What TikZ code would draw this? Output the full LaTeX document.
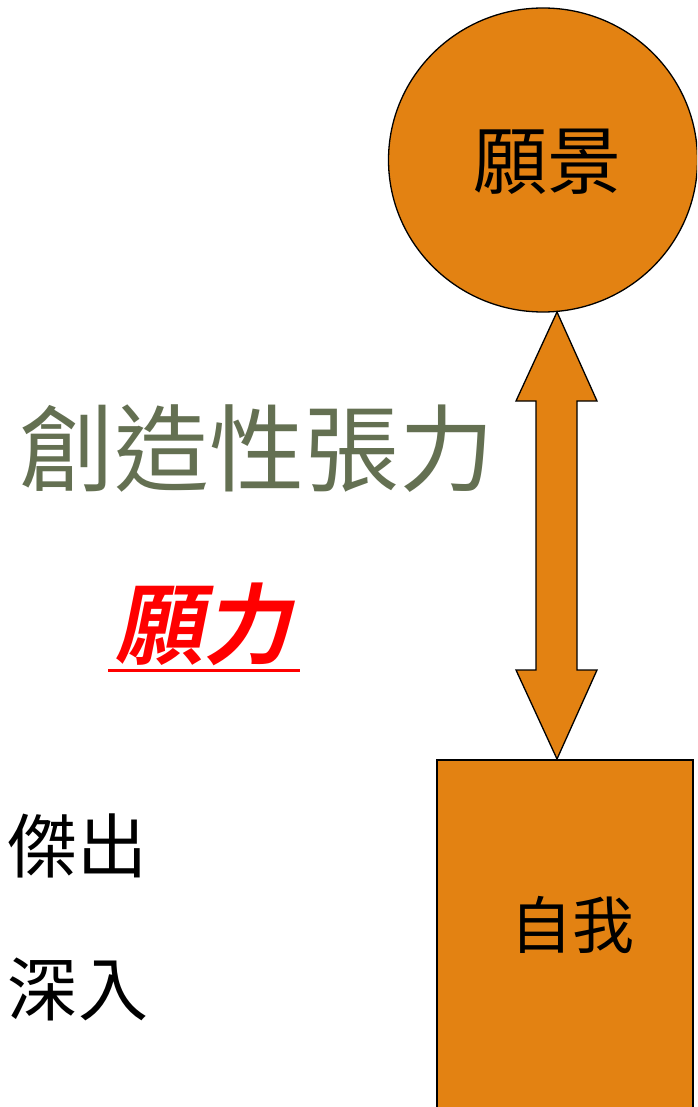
\documentclass[tikz,border=0pt]{standalone}
\usepackage{fontspec}
\newfontfamily\cjk{Noto Sans CJK TC}
\newfontfamily\cjkb{Noto Sans CJK TC Bold}[FakeSlant=0.2]
\usetikzlibrary{shapes.geometric}
\definecolor{orangefill}{RGB}{227,130,18}
\definecolor{olivegray}{RGB}{100,112,82}
\definecolor{brightred}{RGB}{255,0,0}
\tikzset{
  shapebox/.style={draw=black, line width=1.3pt, fill=orangefill, inner sep=0pt},
  cjktext/.style={inner sep=0pt, anchor=center, font=\cjk},
}
\begin{document}
\begin{tikzpicture}[x=1pt,y=-1pt]
\useasboundingbox (0,0) rectangle (697,1107);
\clip (0,0) rectangle (697,1107);
% circle
\node[shapebox, ellipse, minimum width=309pt, minimum height=304pt] (vision) at (543,160) {};
\node[cjktext, font=\cjk\fontsize{74}{74}\selectfont] (visiontext) at (547,162) {願景};
% rectangle
\node[shapebox, rectangle, minimum width=256pt, minimum height=420pt] (self) at (565,970) {};
\node[cjktext, font=\cjk\fontsize{62}{62}\selectfont] (selftext) at (572,925) {自我};
% double arrow
\coordinate (tipTop) at (557,312);
\coordinate (tipBot) at (557,759);
\draw[shapebox, line join=miter]
  (tipTop) -- (597,401) -- (577,401) -- (577,670) -- (597,670) -- (tipBot)
  -- (516,670) -- (536,670) -- (536,401) -- (516,401) -- cycle;
% texts
\node[cjktext, text=olivegray, font=\cjk\fontsize{95}{95}\selectfont] (tension) at (257,449) {創造性張力};
\node[cjktext, text=brightred, font=\cjkb\fontsize{88}{88}\selectfont] (will) at (203,624) {願力};
\draw[brightred, line width=3pt] (108,670) -- (300,670);
\node[cjktext, font=\cjk\fontsize{70}{70}\selectfont] (excel) at (77,846) {傑出};
\node[cjktext, font=\cjk\fontsize{70}{70}\selectfont] (deep) at (78,989) {深入};
\end{tikzpicture}
\end{document}
